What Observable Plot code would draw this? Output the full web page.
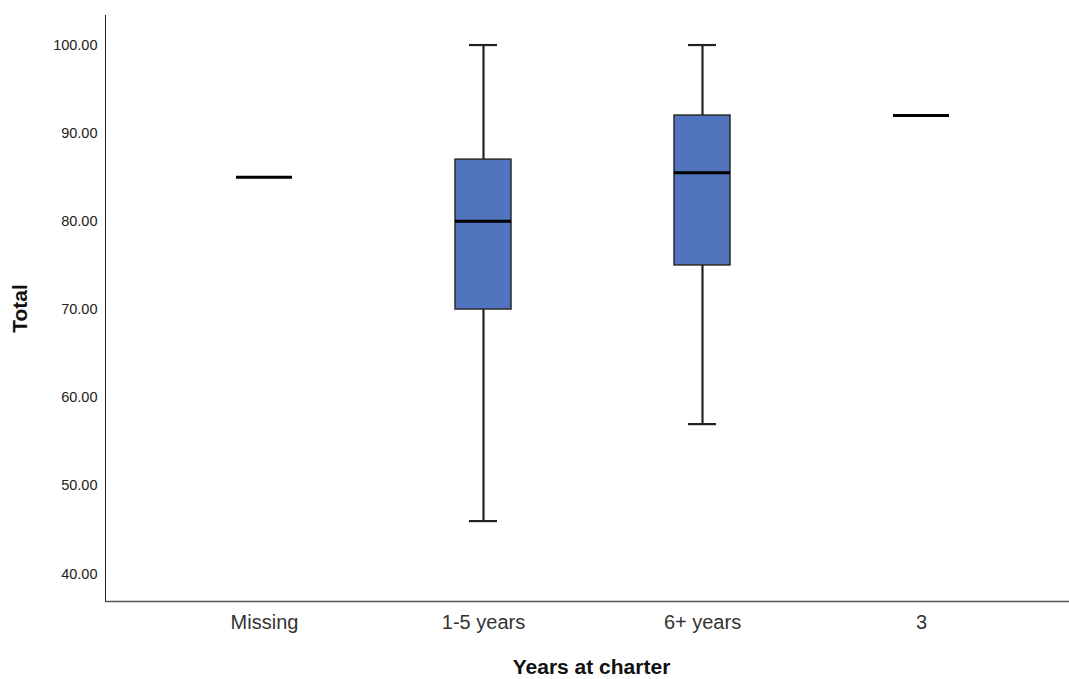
<!DOCTYPE html>
<html>
<head>
<meta charset="utf-8">
<script src="https://cdn.jsdelivr.net/npm/d3@7"></script>
<script src="https://cdn.jsdelivr.net/npm/@observablehq/plot@0.6"></script>
<style>
  html, body { margin: 0; padding: 0; background: #fff; }
</style>
</head>
<body>
<div id="chart"></div>
<script>
const categories = ["Missing", "1-5 years", "6+ years", "3"];
const minVals = [85, 46, 57, 92];
const q1Vals  = [85, 70, 75, 92];
const medVals = [85, 80, 85.5, 92];
const q3Vals  = [85, 87, 92, 92];
const maxVals = [85, 100, 100, 92];
const yTicks = [40, 50, 60, 70, 80, 90, 100];
const xTitle = "Years at charter";
const yTitle = "Total";

const rows = categories.map((c, i) => ({
  cat: c, min: minVals[i], q1: q1Vals[i], med: medVals[i], q3: q3Vals[i], max: maxVals[i]
}));
const spread = rows.filter(d => d.max > d.min);
const yDomain = [36.88, 103.35];

const chart = Plot.plot({
  width: 1069,
  height: 679,
  marginLeft: 105,
  marginRight: 0,
  marginTop: 15,
  marginBottom: 78,
  style: { fontFamily: "'Liberation Sans', Arial, sans-serif", fontSize: "14.5px", color: "#222", background: "#fff" },
  x: { type: "band", domain: categories, range: [235, 949], paddingInner: 0.7447, paddingOuter: 0, axis: null },
  y: { domain: yDomain, ticks: yTicks, tickFormat: d => d.toFixed(2), tickSize: 0, tickPadding: 8, line: true, label: null },
  marks: [
    Plot.ruleX(spread, { x: "cat", y1: "min", y2: "max", stroke: "#222", strokeWidth: 2.2 }),
    Plot.tickY(spread, { x: "cat", y: "min", inset: 14, stroke: "#222", strokeWidth: 2.2 }),
    Plot.tickY(spread, { x: "cat", y: "max", inset: 14, stroke: "#222", strokeWidth: 2.2 }),
    Plot.barY(spread, { x: "cat", y1: "q1", y2: "q3", fill: "#5274BE", stroke: "#2a2a2a", strokeWidth: 1.5 }),
    Plot.tickY(rows, { x: "cat", y: "med", stroke: "#000", strokeWidth: 3 }),
    Plot.ruleY([yDomain[0]], { stroke: "#555", strokeWidth: 1.5 }),
    Plot.axisX({ tickSize: 0, tickPadding: 13, fontSize: 20, label: null, fill: "#333" }),
    Plot.text([xTitle], { frameAnchor: "bottom", dy: 72, dx: 4, fontSize: 21, fontWeight: "bold", fill: "#111" }),
    Plot.text([yTitle], { frameAnchor: "left", textAnchor: "middle", dx: -85, rotate: -90, fontSize: 21, fontWeight: "bold", fill: "#111" })
  ]
});
document.getElementById("chart").appendChild(chart);
</script>
</body>
</html>
